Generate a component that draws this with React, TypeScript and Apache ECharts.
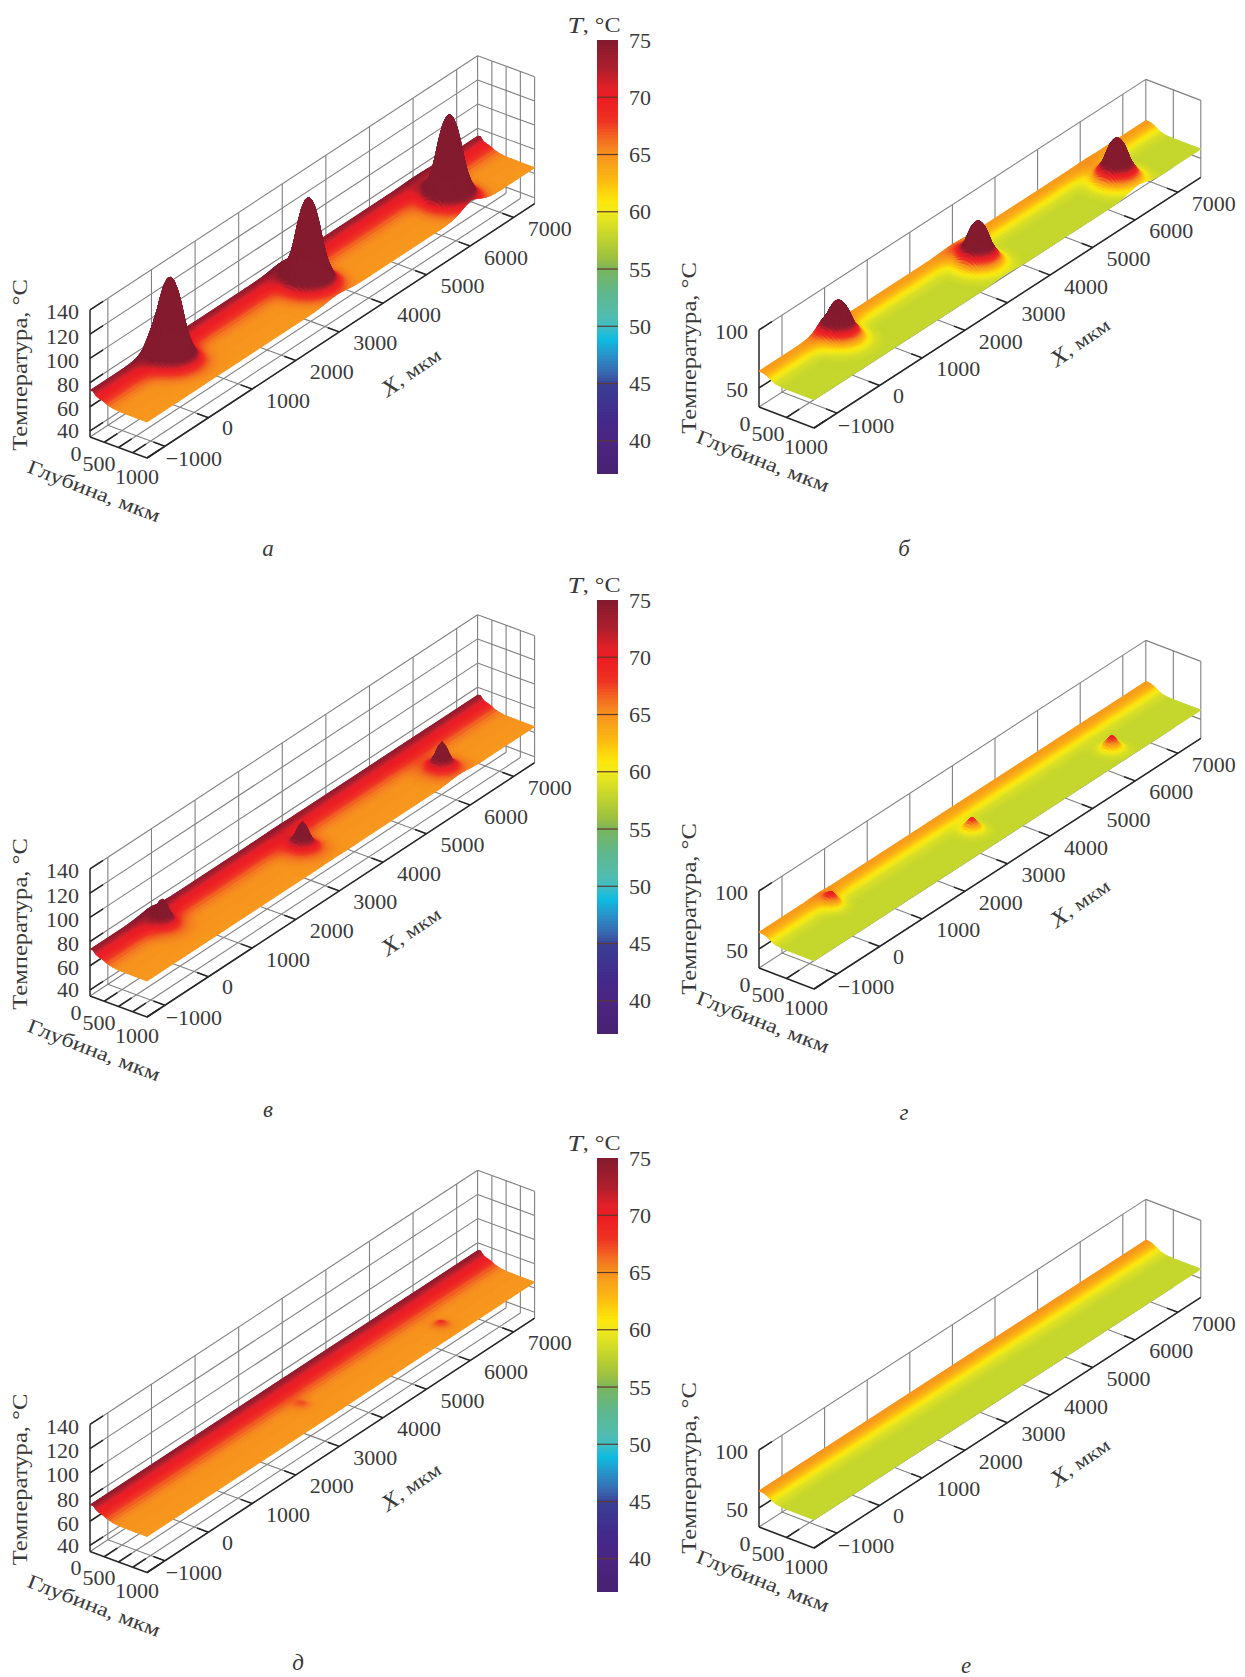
import React, { useEffect, useRef } from "react";
import * as echarts from "echarts";

// ---------- values ----------
const xTicks = [-1000, 0, 1000, 2000, 3000, 4000, 5000, 6000, 7000];
const zTicksHot = [40, 60, 80, 100, 120, 140];
const zTicksCool = [50, 100];
const depthTicksHot = [0, 250, 500, 750, 1000];
const depthTicksCool = [0, 500, 1000];
const depthLabels = [0, 500, 1000];
const colorbarTicks = [40, 45, 50, 55, 60, 65, 70, 75];
const colorbarLines = [40, 45, 50, 55, 60, 65, 70];

const colorStopsT = [37.5, 40, 42, 45, 46, 47.5, 49, 50, 51, 53, 55, 56, 58, 60, 61, 63, 65, 66, 68, 70, 71, 72.5, 75];
const colorStopsC = ["#4a2272", "#4b2581", "#44298a", "#3a3f93", "#3a66ae", "#2a8fc7", "#0fbbe0", "#3cbcc6", "#51bcae", "#5eb78e", "#78b55f", "#9bbf44", "#c5d62c", "#eee81c", "#fde80c", "#fcb813", "#f7941d", "#f47a20", "#ee3424", "#ed1c24", "#e0202a", "#b01f2d", "#851b2e"];

const profileDepth = [0, 50, 100, 150, 200, 250, 300, 400, 500, 750, 1000];
const baseA = [73.5, 74, 71, 70, 69.3, 68.3, 67, 65.7, 65.1, 64.9, 64.8];
const baseB = [64.5, 64.5, 64, 63, 61.5, 60, 59, 58.2, 58, 58, 58];
const baseC = [73.5, 74, 71.2, 70.1, 69.4, 68.4, 67, 65.7, 65.1, 64.9, 64.8];
const baseD = [64.5, 64.5, 64, 63, 61.5, 60, 59, 58.2, 58, 58, 58];
const baseE = [73.5, 74.2, 71.5, 70.2, 69.5, 68.5, 67.2, 65.8, 65.1, 64.9, 64.8];
const baseF = [64.8, 64.8, 64.2, 63.2, 61.7, 60.2, 59.2, 58.3, 58, 58, 58];

const radiusA = [0, 50, 100, 150, 200, 250, 300, 350, 400, 450, 500, 550, 600, 700, 800];
const shapeA = [1, 0.96, 0.86, 0.7, 0.5, 0.33, 0.22, 0.14, 0.08, 0.05, 0.03, 0.018, 0.01, 0.003, 0];
const radiusB = [0, 50, 100, 150, 200, 250, 300, 350, 400, 500, 600, 700];
const shapeB = [1, 0.96, 0.86, 0.68, 0.48, 0.35, 0.24, 0.15, 0.09, 0.03, 0.01, 0];
const radiusC = [0, 50, 100, 150, 200, 250, 300, 400, 500, 600];
const shapeC = [1, 0.85, 0.55, 0.33, 0.2, 0.12, 0.07, 0.03, 0.01, 0];
const radiusD = [0, 50, 100, 150, 200, 250, 300, 400];
const shapeD = [1, 0.8, 0.5, 0.25, 0.12, 0.06, 0.03, 0];
const radiusE = [0, 50, 100, 150, 200, 300];
const shapeE = [1, 0.75, 0.4, 0.18, 0.07, 0];

const peakXA = [100, 2950, 6025];
const peakDepthA = [260, 500, 620];
const peakTipA = [136, 139, 137];
const peakXB = [30, 2960, 6063];
const peakDepthB = [260, 500, 620];
const peakTipB = [92, 96, 96];
const peakXC = [-80, 2810, 5750];
const peakDepthC = [260, 500, 700];
const peakTipC = [88, 88, 88];
const peakXD = [-160, 2790, 5850];
const peakDepthD = [260, 520, 690];
const peakTipD = [71, 70, 71];
const peakXE = [2780, 5730];
const peakDepthE = [500, 700];
const peakTipE = [67.5, 68.5];

const FONT = '"Liberation Serif", serif';
const INK = "#3a3a3a";

// ---------- layout ----------
const hotGeom = { ux: 43.6, uy: -28.6, dx: 57, dy: 21, xmin: -1410, xmax: 7480, z0: 35, zs: 1.21, ztop: 140, zTicks: zTicksHot, depthTicks: depthTicksHot };
const coolGeom = { ux: 42.6, uy: -27.6, dx: 55, dy: 21, xmin: -1540, xmax: 7540, z0: 33.6, zs: 1.16, ztop: 100, zTicks: zTicksCool, depthTicks: depthTicksCool };

const panels = [
  { g: hotGeom, ox: 90, oy: 437, base: baseA, radius: radiusA, shape: shapeA, px: peakXA, pd: peakDepthA, tip: peakTipA, cap: "а", capX: 268, capY: 548 },
  { g: coolGeom, ox: 759, oy: 407, base: baseB, radius: radiusB, shape: shapeB, px: peakXB, pd: peakDepthB, tip: peakTipB, cap: "б", capX: 904, capY: 548 },
  { g: hotGeom, ox: 90, oy: 996, base: baseC, radius: radiusC, shape: shapeC, px: peakXC, pd: peakDepthC, tip: peakTipC, cap: "в", capX: 268, capY: 1109 },
  { g: coolGeom, ox: 759, oy: 968, base: baseD, radius: radiusD, shape: shapeD, px: peakXD, pd: peakDepthD, tip: peakTipD, cap: "г", capX: 904, capY: 1112 },
  { g: hotGeom, ox: 90, oy: 1551.5, base: baseE, radius: radiusE, shape: shapeE, px: peakXE, pd: peakDepthE, tip: peakTipE, cap: "д", capX: 298, capY: 1662 },
  { g: coolGeom, ox: 759, oy: 1527, base: baseF, radius: [0], shape: [0], px: [] as number[], pd: [] as number[], tip: [] as number[], cap: "е", capX: 966, capY: 1665 },
];
const colorbarTops = [40, 600, 1158];

// ---------- helpers ----------
function lookup(xs: number[], ys: number[], v: number) {
  if (v <= xs[0]) return ys[0];
  for (let i = 1; i < xs.length; i++) {
    if (v <= xs[i]) return echarts.number.linearMap(v, [xs[i - 1], xs[i]], [ys[i - 1], ys[i]]);
  }
  return ys[ys.length - 1];
}
const colorCache: Record<number, string> = {};
function tempColor(t: number) {
  const c = Math.max(37.5, Math.min(75, t));
  const key = Math.round(c * 10);
  if (colorCache[key]) return colorCache[key];
  let i = 1;
  while (i < colorStopsT.length - 1 && c > colorStopsT[i]) i++;
  const f = (c - colorStopsT[i - 1]) / (colorStopsT[i] - colorStopsT[i - 1]);
  const col = echarts.color.lerp(f, [colorStopsC[i - 1], colorStopsC[i]]) as string;
  colorCache[key] = col;
  return col;
}

function project(p: any, x: number, d: number, t: number): [number, number] {
  const g = p.g;
  const u = (x - g.xmin) / 1000;
  return [p.ox + u * g.ux + (d / 1000) * g.dx, p.oy + u * g.uy + (d / 1000) * g.dy - (t - g.z0) * g.zs];
}

function surfaceT(p: any, x: number, d: number) {
  let t = lookup(profileDepth, p.base, d);
  for (let k = 0; k < p.px.length; k++) {
    const r = Math.hypot(x - p.px[k], d - p.pd[k]);
    const s = lookup(p.radius, p.shape, r);
    if (s > 0) t += (p.tip[k] - lookup(profileDepth, p.base, p.pd[k])) * s;
  }
  return t;
}

function plainRows() {
  const rows: number[] = [];
  for (let d = 0; d < 300; d += 12.5) rows.push(d);
  for (let d = 300; d <= 1000; d += 50) rows.push(d);
  return rows;
}

// Cells ordered back to front: far x first, shallow depth first within a column.
function cellsOf(p: any) {
  const reach = p.radius[p.radius.length - 1];
  const order = p.px.map((c: number, k: number) => ({ c, d: p.pd[k] })).sort((a: any, b: any) => b.c - a.c);
  const cells: number[][] = [];
  const addColumn = (x0: number, x1: number, rows: number[]) => {
    for (let j = 0; j < rows.length - 1; j++) cells.push([x0, x1, rows[j], rows[j + 1]]);
  };
  let right = p.g.xmax;
  order.forEach((pk: any) => {
    addColumn(pk.c + reach, right, plainRows());
    const set = new Set<number>(plainRows());
    const span = Math.min(reach, 600);
    for (let d = Math.max(0, pk.d - span); d <= Math.min(1000, pk.d + span); d += 15) set.add(d);
    const rows = Array.from(set).sort((a, b) => a - b);
    for (let x = pk.c + reach; x > pk.c - reach; x -= 30) addColumn(x - 30, x, rows);
    right = pk.c - reach;
  });
  addColumn(p.g.xmin, right, plainRows());
  return cells;
}

function wireOf(p: any) {
  const g = p.g;
  const grid: number[][] = [];
  const dark: number[][] = [];
  xTicks.forEach((x) => {
    grid.push([x, 0, g.z0, x, 0, g.ztop]);
    grid.push([x, 0, g.z0, x, 1000, g.z0]);
    dark.push([x, 1000, g.z0, x, 800, g.z0]);
  });
  g.zTicks.forEach((z: number) => {
    grid.push([g.xmin, 0, z, g.xmax, 0, z]);
    grid.push([g.xmax, 0, z, g.xmax, 1000, z]);
    dark.push([g.xmin, 0, z, g.xmin + 300, 0, z]);
  });
  g.depthTicks.forEach((d: number) => {
    grid.push([g.xmax, d, g.z0, g.xmax, d, g.ztop]);
    grid.push([g.xmin, d, g.z0, g.xmax, d, g.z0]);
    if (d > 0) dark.push([g.xmin, d, g.z0, g.xmin + 300, d, g.z0]);
  });
  dark.push([g.xmin, 0, g.z0, g.xmin, 0, g.ztop]);
  dark.push([g.xmin, 0, g.z0, g.xmin, 1000, g.z0]);
  dark.push([g.xmin, 1000, g.z0, g.xmax, 1000, g.z0]);
  return { grid, dark };
}

function text(x: number, y: number, s: string, o: any = {}) {
  return {
    type: "text",
    x,
    y,
    rotation: o.rotation || 0,
    scaleX: o.scaleX || 1,
    z: 20,
    silent: true,
    style: {
      text: s,
      x: 0,
      y: 0,
      fill: INK,
      fontFamily: FONT,
      fontSize: o.size || 22,
      fontStyle: o.italic ? "italic" : "normal",
      align: o.align || "center",
      verticalAlign: "middle",
      textAlign: o.align || "center",
      textVerticalAlign: "middle",
      rich: o.rich,
    },
  };
}

function buildOption() {
  const series: any[] = [];
  const graphics: any[] = [];
  const deg = Math.PI / 180;

  panels.forEach((p) => {
    const g = p.g;
    const wire = wireOf(p);
    const wireData = [
      ...wire.grid.map((s) => [...s, 0]),
      ...wire.dark.map((s) => [...s, 1]),
    ];
    series.push({
      type: "custom",
      coordinateSystem: "none",
      z: 1,
      silent: true,
      progressive: 0,
      animation: false,
      data: wireData,
      renderItem: (_: any, api: any) => {
        const a = project(p, api.value(0), api.value(1), api.value(2));
        const b = project(p, api.value(3), api.value(4), api.value(5));
        const isDark = api.value(6) === 1;
        return {
          type: "line",
          shape: { x1: a[0], y1: a[1], x2: b[0], y2: b[1] },
          z2: isDark ? 5 : 1,
          style: { stroke: isDark ? "#262626" : "#808080", lineWidth: isDark ? 1.5 : 1.1, fill: "none" },
        };
      },
    });

    series.push({
      type: "custom",
      coordinateSystem: "none",
      z: 2,
      silent: true,
      progressive: 0,
      animation: false,
      data: cellsOf(p),
      renderItem: (_: any, api: any) => {
        const x0 = api.value(0), x1 = api.value(1), d0 = api.value(2), d1 = api.value(3);
        const t00 = surfaceT(p, x0, d0), t01 = surfaceT(p, x0, d1), t10 = surfaceT(p, x1, d0), t11 = surfaceT(p, x1, d1);
        const col = tempColor((t00 + t01 + t10 + t11) / 4);
        return {
          type: "polygon",
          shape: { points: [project(p, x0, d0, t00), project(p, x1, d0, t10), project(p, x1, d1, t11), project(p, x0, d1, t01)] },
          style: { fill: col, stroke: col, lineWidth: 1, lineJoin: "round" },
        };
      },
    });

    // axis texts
    g.zTicks.forEach((z: number) => {
      const y = project(p, g.xmin, 0, z)[1];
      graphics.push(text(p.ox - 11, y + (z === 40 ? 0 : 2), String(z), { align: "right" }));
    });
    const depthOffsets = [[-14, 16], [9, 26], [47, 39]];
    depthLabels.forEach((d, i) => {
      graphics.push(text(p.ox + depthOffsets[i][0], p.oy + depthOffsets[i][1], String(d)));
    });
    xTicks.forEach((x) => {
      const t = project(p, x, 1000, g.z0);
      const off = x < 0 ? [29, 12] : x === 0 ? [19, 10] : [36, 11];
      graphics.push(text(t[0] + off[0], t[1] + off[1], x < 0 ? "−" + Math.abs(x) : String(x)));
    });
    graphics.push(text(p.ox - 70, p.oy - 59 + (g === hotGeom ? -13 : 0), "Температура, °С", { rotation: Math.PI / 2, size: 20, scaleX: 1.23 }));
    graphics.push(text(p.ox + 4, p.oy + 54, "Глубина, мкм", { rotation: -21 * deg, size: 20, scaleX: 1.22 }));
    graphics.push(
      text(p.ox + 321, p.oy - 65, "{i|X}, мкм", {
        rotation: 34 * deg,
        size: 19,
        scaleX: 1.2,
        rich: { i: { fontStyle: "italic", fontFamily: FONT, fontSize: 23, fill: INK } },
      })
    );
    graphics.push(text(p.capX, p.capY, p.cap, { italic: true, size: 23 }));
  });

  // colour bars
  const grids: any[] = [];
  const xAxes: any[] = [];
  const yAxes: any[] = [];
  const steps: number[][] = [];
  for (let t = 37.1; t < 75; t += 0.25) steps.push([0, t]);
  colorbarTops.forEach((top, k) => {
    grids.push({ left: 597, width: 21, top, height: 434 });
    xAxes.push({ type: "value", gridIndex: k, min: 0, max: 1, show: false });
    yAxes.push({
      type: "value",
      gridIndex: k,
      min: 37.1,
      max: 75,
      position: "right",
      axisLine: { show: false },
      splitLine: { show: false },
      axisTick: { show: false },
      axisLabel: { show: true, customValues: colorbarTicks, margin: 11, color: INK, fontFamily: FONT, fontSize: 22 },
    });
    series.push({
      type: "custom",
      coordinateSystem: "cartesian2d",
      xAxisIndex: k,
      yAxisIndex: k,
      z: 3,
      silent: true,
      progressive: 0,
      animation: false,
      data: steps,
      clip: false,
      renderItem: (_: any, api: any) => {
        const t = api.value(1);
        const a = api.coord([0, t]);
        const b = api.coord([1, Math.min(75, t + 0.25)]);
        const col = tempColor(t + 0.125);
        const isBottom = t < 37.2;
        return {
          type: "rect",
          shape: { x: a[0], y: b[1], width: b[0] - a[0], height: a[1] - b[1] + (isBottom ? 0 : 1.5) },
          style: { fill: col },
        };
      },
    });
    series.push({
      type: "custom",
      coordinateSystem: "cartesian2d",
      xAxisIndex: k,
      yAxisIndex: k,
      z: 4,
      silent: true,
      progressive: 0,
      animation: false,
      data: colorbarLines.map((t) => [0, t]),
      clip: false,
      renderItem: (_: any, api: any) => {
        const a = api.coord([0, api.value(1)]);
        const b = api.coord([1, api.value(1)]);
        return {
          type: "line",
          shape: { x1: a[0], y1: a[1], x2: b[0], y2: b[1] },
          style: { stroke: "#5a3a30", lineWidth: 1.2, fill: "none" },
        };
      },
    });
    graphics.push(
      text(594, top - 15, "{i|T}, °C", {
        size: 21,
        scaleX: 1.15,
        rich: { i: { fontStyle: "italic", fontFamily: FONT, fontSize: 24, fill: INK } },
      })
    );
  });

  return {
    animation: false,
    backgroundColor: "#ffffff",
    grid: grids,
    xAxis: xAxes,
    yAxis: yAxes,
    series,
    graphic: { elements: graphics },
  };
}

export default function App() {
  const ref = useRef<HTMLDivElement>(null);
  useEffect(() => {
    const chart = echarts.init(ref.current!, undefined, { renderer: "svg" });
    chart.setOption(buildOption() as any);
    return () => chart.dispose();
  }, []);
  return <div ref={ref} style={{ position: "absolute", left: 0, top: 0, width: 1245, height: 1677 }} />;
}
